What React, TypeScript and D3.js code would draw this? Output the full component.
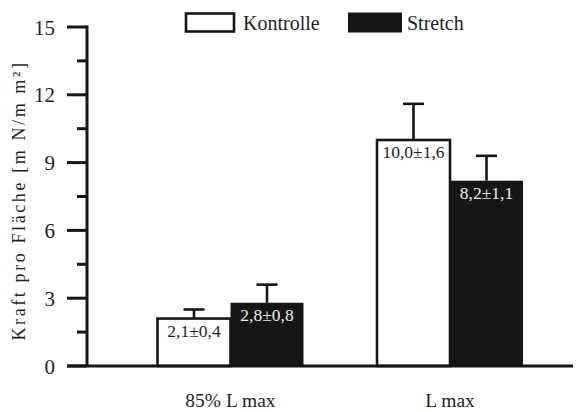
import React from "react";
import * as d3 from "d3";

const categories = ["85% L max", "L max"];
const seriesNames = ["Kontrolle", "Stretch"];
const kontrolle = [2.1, 10.0];
const kontrolleErr = [0.4, 1.6];
const stretch = [2.8, 8.2];
const stretchErr = [0.8, 1.1];
const yTicks = [0, 3, 6, 9, 12, 15];
const yMinorTicks = [1.5, 4.5, 7.5, 10.5, 13.5];

const fmt = (v: number) => v.toFixed(1).replace(".", ",");

const App = () => {
  const width = 576;
  const height = 412;
  const axisX = 87;
  const font = "Liberation Serif, DejaVu Serif, serif";
  const dark = "#161616";
  const ink = "#1e1e1e";

  const y = d3.scaleLinear().domain([0, 15]).range([366, 27]);
  // group centres: first ~158..303, second ~377..523
  const xg = d3.scalePoint().domain(categories).range([230.5, 450]);
  const barW = 73;

  const series = [
    { name: seriesNames[0], vals: kontrolle, errs: kontrolleErr, fill: "#fff", text: ink },
    { name: seriesNames[1], vals: stretch, errs: stretchErr, fill: dark, text: "#eee" },
  ];

  return (
    <svg width={width} height={height} style={{ position: "absolute", left: 0, top: 0, background: "#fff" }}>
      {/* bars */}
      {series.map((s, si) =>
        categories.map((c, ci) => {
          const cx = (xg(c) as number) + (si === 0 ? -barW / 2 : barW / 2);
          const top = y(s.vals[ci]);
          const errTop = y(s.vals[ci] + s.errs[ci]);
          return (
            <g key={`${si}-${ci}`}>
              <line x1={cx} x2={cx} y1={top} y2={errTop} stroke={dark} strokeWidth={2.6} />
              <line x1={cx - 10.5} x2={cx + 10.5} y1={errTop} y2={errTop} stroke={dark} strokeWidth={2.6} />
              <rect
                x={cx - barW / 2}
                y={top}
                width={barW}
                height={y(0) - top}
                fill={s.fill}
                stroke={dark}
                strokeWidth={si === 0 ? 2.6 : 0}
              />
              <text x={cx} y={top + 18} textAnchor="middle" style={{ fontFamily: font }} fontSize={17.5} fill={s.text}>
                {`${fmt(s.vals[ci])}±${fmt(s.errs[ci])}`}
              </text>
            </g>
          );
        })
      )}
      {/* axes */}
      <line x1={axisX} x2={axisX} y1={y(15) - 1.5} y2={y(0)} stroke={dark} strokeWidth={3} />
      <line x1={67} x2={573} y1={y(0)} y2={y(0)} stroke={dark} strokeWidth={3} />
      {yTicks.map((t) => (
        <g key={t}>
          <line x1={67} x2={axisX} y1={y(t)} y2={y(t)} stroke={dark} strokeWidth={3} />
          <text x={55} y={y(t) + 7.5} textAnchor="end" style={{ fontFamily: font }} fontSize={21} fill={ink}>
            {t}
          </text>
        </g>
      ))}
      {yMinorTicks.map((t) => (
        <line key={t} x1={77} x2={axisX} y1={y(t)} y2={y(t)} stroke={dark} strokeWidth={3} />
      ))}
      {categories.map((c) => (
        <text key={c} x={xg(c) as number} y={407} textAnchor="middle" style={{ fontFamily: font }} fontSize={19.5} fill={ink}>
          {c}
        </text>
      ))}
      <text
        transform={`translate(25,${(y(0) + y(15)) / 2 + 4}) rotate(-90)`}
        textAnchor="middle"
        style={{ fontFamily: font }}
        fontSize={18}
        letterSpacing={2.6}
        fill={ink}
      >
        Kraft pro Fläche [m N/m m²]
      </text>
      {/* legend */}
      <rect x={186} y={13.5} width={48} height={18} fill="#fff" stroke={dark} strokeWidth={2.6} />
      <text x={243} y={30} style={{ fontFamily: font }} fontSize={20} fill={ink}>{seriesNames[0]}</text>
      <rect x={348} y={12.5} width={54} height={20} fill={dark} />
      <text x={407} y={30} style={{ fontFamily: font }} fontSize={20} fill={ink}>{seriesNames[1]}</text>
    </svg>
  );
};

export default App;
